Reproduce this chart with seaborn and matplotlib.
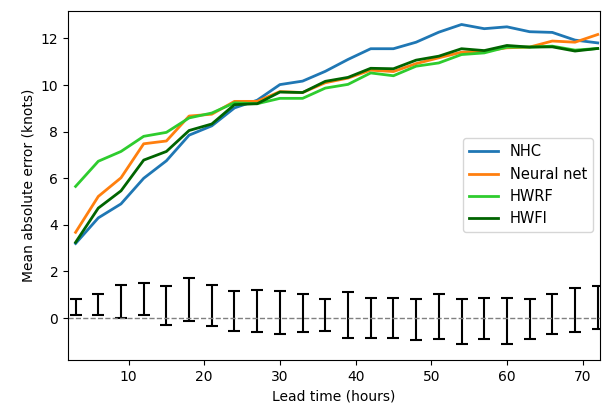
import matplotlib
matplotlib.use("Agg")
import matplotlib.pyplot as plt
import seaborn as sns
import numpy as np
import pandas as pd

hours = [3, 6, 9, 12, 15, 18, 21, 24, 27, 30, 33, 36,
         39, 42, 45, 48, 51, 54, 57, 60, 63, 66, 69, 72]

nhc = [3.20, 4.30, 4.90, 6.00, 6.75, 7.85, 8.25, 9.02, 9.35, 10.02, 10.17, 10.59,
       11.10, 11.56, 11.56, 11.84, 12.27, 12.60, 12.42, 12.50, 12.29, 12.26, 11.93, 11.81]
neural = [3.68, 5.22, 6.02, 7.48, 7.60, 8.67, 8.75, 9.30, 9.30, 9.72, 9.68, 10.10,
          10.30, 10.64, 10.58, 10.92, 11.17, 11.41, 11.46, 11.60, 11.63, 11.89, 11.84, 12.17]
hwrf = [5.65, 6.73, 7.15, 7.80, 7.97, 8.59, 8.80, 9.24, 9.20, 9.43, 9.43, 9.87,
        10.03, 10.52, 10.40, 10.81, 10.95, 11.31, 11.38, 11.63, 11.63, 11.67, 11.50, 11.57]
hwfi = [3.25, 4.72, 5.46, 6.78, 7.15, 8.05, 8.33, 9.16, 9.20, 9.70, 9.68, 10.16,
        10.33, 10.72, 10.70, 11.07, 11.24, 11.56, 11.48, 11.70, 11.63, 11.64, 11.46, 11.57]

err_low = [0.15, 0.15, 0.00, 0.15, -0.28, -0.13, -0.35, -0.54, -0.61, -0.68, -0.61, -0.54,
           -0.84, -0.84, -0.84, -0.96, -0.92, -1.13, -0.92, -1.10, -0.92, -0.70, -0.60, -0.48]
err_high = [0.83, 1.04, 1.44, 1.51, 1.36, 1.72, 1.44, 1.15, 1.22, 1.15, 1.04, 0.83,
            1.10, 0.88, 0.88, 0.80, 1.05, 0.83, 0.88, 0.88, 0.83, 1.02, 1.31, 1.37]

series_names = ["NHC", "Neural net", "HWRF", "HWFI"]
colors = {"NHC": "#1f77b4", "Neural net": "#ff7f0e", "HWRF": "#2ecc2e", "HWFI": "#006400"}

df = pd.DataFrame({
    "hour": hours * 4,
    "error": nhc + neural + hwrf + hwfi,
    "model": sum([[n] * len(hours) for n in series_names], []),
})

fig = plt.figure(figsize=(6.09, 4.09), dpi=100)
ax = fig.add_axes([0.1117, 0.1198, 0.8735, 0.8545])

sns.lineplot(data=df, x="hour", y="error", hue="model", hue_order=series_names,
             palette=colors, linewidth=2, ax=ax)

lo = np.array(err_low)
hi = np.array(err_high)
ax.errorbar(hours, (lo + hi) / 2, yerr=(hi - lo) / 2, fmt="none",
            ecolor="black", elinewidth=1.5, capsize=4, capthick=1.5)
ax.axhline(0, color="gray", linestyle="--", linewidth=1)

ax.set_xlim(2, 72.3)
ax.set_ylim(-1.8, 13.2)
ax.set_xticks([10, 20, 30, 40, 50, 60, 70])
ax.set_yticks([0, 2, 4, 6, 8, 10, 12])
ax.set_xlabel("Lead time (hours)", fontsize=10)
ax.set_ylabel("Mean absolute error (knots)", fontsize=10)
ax.tick_params(labelsize=10)
for s in ax.spines.values():
    s.set_visible(True)

ax.legend(loc="center right", fontsize=10.5, frameon=True)

fig.savefig("out.png", dpi=100)
